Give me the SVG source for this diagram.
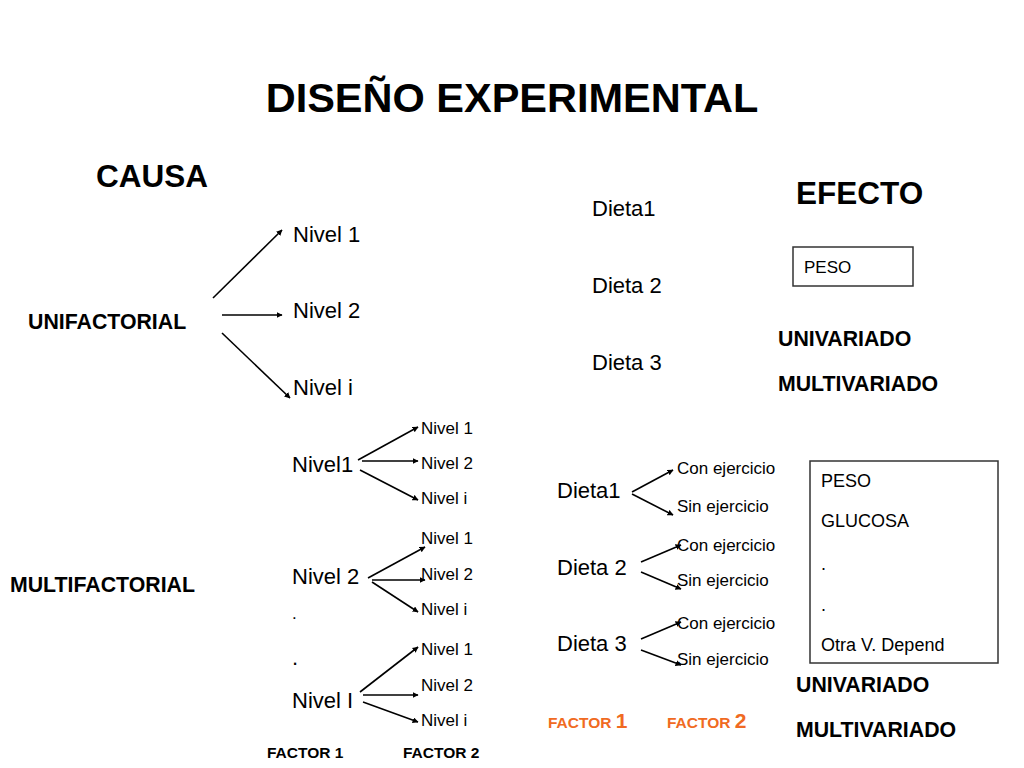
<svg xmlns="http://www.w3.org/2000/svg" width="1024" height="768" viewBox="0 0 1024 768">
<style>
text{font-family:"Liberation Sans",Arial,sans-serif;fill:#000}
.t{font-size:41.5px;font-weight:bold}
.h{font-size:31.5px;font-weight:bold}
.m{font-size:22px}
.s{font-size:17px}
.x{font-size:18px}
.lb{font-size:21.3px;font-weight:bold}
.f{font-size:15.5px;font-weight:bold}
.o{fill:#F06A22;font-weight:bold}
.c line{stroke:#000;stroke-width:1.6;marker-end:url(#ah)}
rect.box{fill:#fff;stroke:#333;stroke-width:1.5}
</style>
<defs>
<marker id="ah" viewBox="0 0 10 10" refX="9" refY="5" markerWidth="6" markerHeight="6" markerUnits="userSpaceOnUse" orient="auto">
<path d="M0,0 L10,5 L0,10 z" fill="#000"/>
</marker>
</defs>
<rect width="1024" height="768" fill="#fff"/>
<text id="title" class="t" x="512" y="112" text-anchor="middle">DISEÑO EXPERIMENTAL</text>
<text id="causa" class="h" x="96" y="187">CAUSA</text>
<text id="efecto" class="h" x="796" y="204">EFECTO</text>

<g id="unifactorial"><text class="lb" x="28" y="329">UNIFACTORIAL</text></g>
<g id="u-nivel1"><text class="m" x="293" y="242">Nivel 1</text></g>
<g id="u-nivel2"><text class="m" x="293" y="318">Nivel 2</text></g>
<g id="u-niveli"><text class="m" x="293" y="395">Nivel i</text></g>

<g id="dieta1"><text class="m" x="592" y="216">Dieta1</text></g>
<g id="dieta2"><text class="m" x="592" y="293">Dieta 2</text></g>
<g id="dieta3"><text class="m" x="592" y="370">Dieta 3</text></g>

<g id="peso-box"><rect class="box" x="793" y="247" width="120" height="39"/><text class="s" x="804" y="273">PESO</text></g>
<g id="univariado1"><text class="lb" x="778" y="346">UNIVARIADO</text></g>
<g id="multivariado1"><text class="lb" x="778" y="391">MULTIVARIADO</text></g>

<g id="multifactorial"><text class="lb" x="10" y="592">MULTIFACTORIAL</text></g>
<g id="m-nivel1"><text class="m" x="292" y="472">Nivel1</text></g>
<g id="m-nivel1-sub"><text class="s" x="421" y="434">Nivel 1</text><text class="s" x="421" y="469">Nivel 2</text><text class="s" x="421" y="504">Nivel i</text></g>
<g id="m-nivel2"><text class="m" x="292" y="584">Nivel 2</text></g>
<g id="m-nivel2-sub"><text class="s" x="421" y="544">Nivel 1</text><text class="s" x="421" y="580">Nivel 2</text><text class="s" x="421" y="615">Nivel i</text></g>
<g id="dots"><text class="s" x="292" y="619">.</text><text class="m" x="292" y="665">.</text></g>
<g id="m-nivelI"><text class="m" x="292" y="708">Nivel I</text></g>
<g id="m-nivelI-sub"><text class="s" x="421" y="655">Nivel 1</text><text class="s" x="421" y="691">Nivel 2</text><text class="s" x="421" y="726">Nivel i</text></g>
<g id="factors-a"><text class="f" x="267" y="758">FACTOR 1</text><text class="f" x="403" y="758">FACTOR 2</text></g>

<g id="d-dieta1"><text class="m" x="557" y="498">Dieta1</text><text class="s" x="677" y="474">Con ejercicio</text><text class="s" x="677" y="512">Sin ejercicio</text></g>
<g id="d-dieta2"><text class="m" x="557" y="575">Dieta 2</text><text class="s" x="677" y="551">Con ejercicio</text><text class="s" x="677" y="586">Sin ejercicio</text></g>
<g id="d-dieta3"><text class="m" x="557" y="651">Dieta 3</text><text class="s" x="677" y="629">Con ejercicio</text><text class="s" x="677" y="665">Sin ejercicio</text></g>
<g id="factors-b"><text class="o" x="548" y="728" font-size="15.5">FACTOR <tspan font-size="21">1</tspan></text><text class="o" x="667" y="728" font-size="15.5">FACTOR <tspan font-size="21">2</tspan></text></g>

<g id="multi-box"><rect class="box" x="810" y="461" width="188" height="202"/>
<text class="x" x="821" y="487">PESO</text><text class="x" x="821" y="527">GLUCOSA</text><text class="x" x="821" y="570">.</text><text class="x" x="821" y="611">.</text><text class="x" x="821" y="651">Otra V. Depend</text></g>
<g id="univariado2"><text class="lb" x="796" y="692">UNIVARIADO</text></g>
<g id="multivariado2"><text class="lb" x="796" y="737">MULTIVARIADO</text></g>

<g id="connectors" class="c">
<line x1="213" y1="298" x2="282" y2="230"/>
<line x1="222" y1="315" x2="282" y2="315"/>
<line x1="222" y1="333" x2="290" y2="398"/>
<line x1="358" y1="460" x2="418" y2="427"/>
<line x1="362" y1="461" x2="418" y2="461"/>
<line x1="360" y1="470" x2="418" y2="500"/>
<line x1="368" y1="578" x2="425" y2="547"/>
<line x1="372" y1="580" x2="425" y2="580"/>
<line x1="372" y1="582" x2="418" y2="612"/>
<line x1="360" y1="692" x2="418" y2="647"/>
<line x1="363" y1="695" x2="418" y2="695"/>
<line x1="363" y1="702" x2="418" y2="722"/>
<line x1="632" y1="492" x2="673" y2="470"/>
<line x1="632" y1="494" x2="673" y2="515"/>
<line x1="641" y1="562" x2="681" y2="545"/>
<line x1="641" y1="572" x2="681" y2="589"/>
<line x1="641" y1="639" x2="681" y2="622"/>
<line x1="641" y1="650" x2="681" y2="665"/>
</g>
</svg>
